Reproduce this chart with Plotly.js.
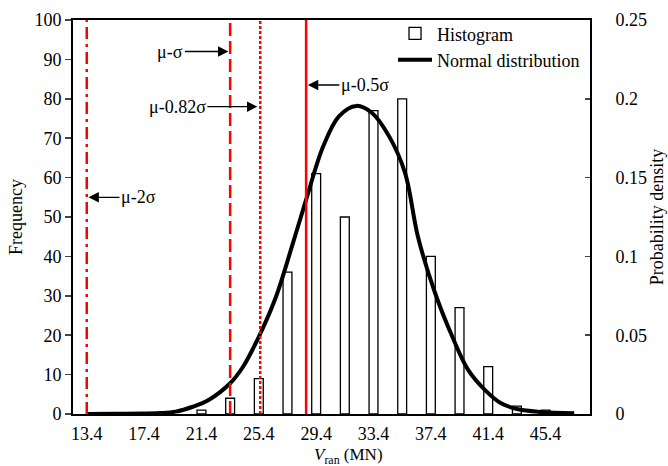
<!DOCTYPE html>
<html>
<head>
<meta charset="utf-8">
<script src="https://cdn.plot.ly/plotly-3.0.1.min.js"></script>
<style>html,body{margin:0;padding:0;background:#fff;}#chart{width:668px;height:466px;}</style>
</head>
<body>
<div id="chart"></div>
<script>
// Histogram bins (bin centres, MN) and counts
const binCenters = [21.4, 23.4, 25.4, 27.4, 29.4, 31.4, 33.4, 35.4, 37.4, 39.4, 41.4, 43.4, 45.4];
const frequency  = [1, 4, 9, 36, 61, 50, 77, 80, 40, 27, 12, 2, 1];

// Normal distribution curve
const curveX = [13.4, 15.4, 17.4, 18.5, 19.6, 20.8, 21.9, 23.4, 24.3, 25.4, 26.6, 27.7, 28.7, 29.9, 31.0, 32.2, 33.3, 34.5, 35.6, 36.5, 37.7, 38.9, 40.0, 41.2, 42.3, 43.5, 45.1, 47.4];
const curveDensity = [0, 0.0001, 0.0003, 0.0006, 0.0015, 0.0046, 0.0089, 0.0195, 0.030, 0.049, 0.0744, 0.106, 0.136, 0.170, 0.189, 0.1955, 0.191, 0.176, 0.153, 0.1125, 0.0766, 0.049, 0.028, 0.015, 0.0068, 0.003, 0.0013, 0.0004];

// Reference lines
const refLabels = ['μ-2σ', 'μ-σ', 'μ-0.82σ', 'μ-0.5σ'];
const refValues = [13.4, 23.4, 25.5, 28.7];

const xTicks = [13.4, 17.4, 21.4, 25.4, 29.4, 33.4, 37.4, 41.4, 45.4];

const FONT = "'Liberation Serif', 'Times New Roman', Times, serif";

const traces = [
  {
    type: 'bar', name: 'Histogram', x: binCenters, y: frequency, width: 0.62,
    marker: {color: '#ffffff', line: {color: '#000000', width: 1.3}},
    xaxis: 'x', yaxis: 'y', hoverinfo: 'x+y'
  },
  {
    type: 'scatter', mode: 'lines', name: 'Normal distribution', x: curveX, y: curveDensity,
    line: {color: '#000000', width: 4, shape: 'spline', smoothing: 1},
    xaxis: 'x', yaxis: 'y2'
  }
];

const dashes = ['12px,5px,3px,5px', '13px,5px', '3px,2px', 'solid'];
const shapes = refValues.map((v, i) => ({
  type: 'line', xref: 'x', yref: 'paper', x0: v, x1: v, y0: 0, y1: 1,
  line: {color: '#ff0000', width: 2.5, dash: dashes[i]}, layer: 'above'
}));

// annotation placements: [y (frequency), ax (px)]
const annPos = [[55, 50], [92, -58], [78, -80], [83.5, 57]];
const headOffset = [0.12, -0.12, -0.2, 0.12];
const annotations = refValues.map((v, i) => ({
  x: v + headOffset[i], y: annPos[i][0], xref: 'x', yref: 'y',
  text: refLabels[i], showarrow: true, ax: annPos[i][1], ay: 0,
  arrowhead: 2, arrowsize: 1.6, arrowwidth: 1.3, arrowcolor: '#000',
  font: {family: FONT, size: 18, color: '#000'}
}));
// x-axis title (placed slightly right of centre, as in the original)
annotations.push({
  xref: 'paper', yref: 'paper', x: 0.532, y: -0.106, xanchor: 'center', yanchor: 'middle',
  text: '<i>V</i><sub>ran</sub> (MN)', showarrow: false,
  font: {family: FONT, size: 17, color: '#000'}
});

const layout = {
  width: 668, height: 466,
  margin: {l: 73, r: 78, t: 20, b: 52},
  paper_bgcolor: '#fff', plot_bgcolor: '#fff',
  font: {family: FONT, size: 18, color: '#000'},
  showlegend: true,
  legend: {x: 0.619, y: 1.012, xanchor: 'left', yanchor: 'top', bgcolor: 'rgba(0,0,0,0)',
           font: {family: FONT, size: 18, color: '#000'}, itemwidth: 34},
  bargap: 0,
  xaxis: {
    range: [12.44, 48.5], tickvals: xTicks, ticktext: xTicks.map(v => v.toFixed(1)),
    showgrid: false, zeroline: false, showline: true, linecolor: '#000', linewidth: 2,
    mirror: true, ticks: '', ticklabelstandoff: 2,
    tickfont: {family: FONT, size: 18}
  },
  yaxis: {
    range: [0, 100], dtick: 10, showgrid: false, zeroline: false,
    showline: true, linecolor: '#000', linewidth: 2, ticks: 'outside', ticklen: 6, tickwidth: 1.5,
    tickfont: {family: FONT, size: 18},
    title: {text: 'Frequency', standoff: 7, font: {family: FONT, size: 18}}
  },
  yaxis2: {
    range: [0, 0.25], dtick: 0.05, overlaying: 'y', side: 'right', showgrid: false, zeroline: false,
    showline: true, linecolor: '#000', linewidth: 2, ticks: 'inside', ticklen: 5, tickwidth: 1.5,
    ticklabelstandoff: 20, tickfont: {family: FONT, size: 18},
    title: {text: 'Probability density', standoff: 3, font: {family: FONT, size: 18}}
  },
  shapes: shapes,
  annotations: annotations
};

Plotly.newPlot('chart', traces, layout, {displayModeBar: false, staticPlot: true});
</script>
</body>
</html>
